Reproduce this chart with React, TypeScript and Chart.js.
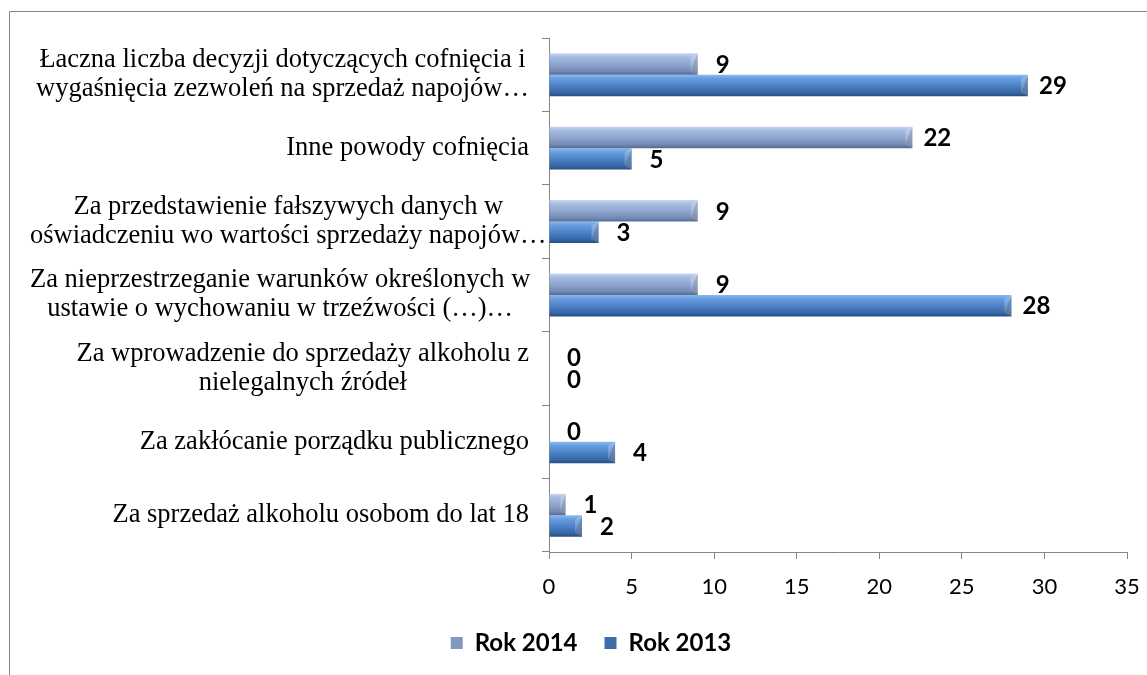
import React, { useEffect, useRef } from "react";
import { Chart, registerables } from "chart.js";

Chart.register(...registerables);

const categories: string[][] = [
  ["Łaczna liczba decyzji dotyczących cofnięcia i", "wygaśnięcia zezwoleń na sprzedaż napojów…"],
  ["Inne powody cofnięcia"],
  ["Za przedstawienie fałszywych danych w", "oświadczeniu wo wartości sprzedaży napojów…"],
  ["Za nieprzestrzeganie warunków określonych w", "ustawie o wychowaniu w trzeźwości (…)…"],
  ["Za wprowadzenie do sprzedaży alkoholu z", "nielegalnych źródeł"],
  ["Za zakłócanie porządku publicznego"],
  ["Za sprzedaż alkoholu osobom do lat 18"],
];
const rok2014: number[] = [9, 22, 9, 9, 0, 0, 1];
const rok2013: number[] = [29, 5, 3, 28, 0, 4, 2];
const seriesNames: string[] = ["Rok 2014", "Rok 2013"];

const W = 1182;
const H = 675;
const AXIS = "#868686";

const GRADS: [number, string][][] = [
  [[0, "#c8d7f1"], [0.18, "#a6bbe0"], [0.55, "#8ca3cd"], [0.85, "#7188b1"], [1, "#56698e"]],
  [[0, "#8cbaf0"], [0.18, "#669de0"], [0.55, "#4a7ec2"], [0.85, "#3666a3"], [1, "#244d7d"]],
];
const LEGEND_COLORS = ["#8398c1", "#3d6dab"];

const frame = {
  id: "frame",
  beforeDraw(chart: any) {
    const ctx = chart.ctx;
    ctx.save();
    ctx.fillStyle = "#ffffff";
    ctx.fillRect(0, 0, chart.width, chart.height);
    ctx.strokeStyle = AXIS;
    ctx.lineWidth = 1;
    ctx.beginPath();
    ctx.moveTo(9.5, chart.height);
    ctx.lineTo(9.5, 11.5);
    ctx.lineTo(chart.width, 11.5);
    ctx.stroke();
    ctx.restore();
  },
};

const barGradient = {
  id: "barGradient",
  beforeDatasetsDraw(chart: any) {
    const ctx = chart.ctx;
    chart.data.datasets.forEach((_ds: any, di: number) => {
      const meta = chart.getDatasetMeta(di);
      meta.data.forEach((el: any) => {
        const h = el.height;
        const top = el.y - h / 2;
        const g = ctx.createLinearGradient(0, top, 0, top + h);
        GRADS[di].forEach(([o, c]) => g.addColorStop(o, c));
        el.options.backgroundColor = g;
      });
    });
  },
  afterDatasetsDraw(chart: any) {
    const ctx = chart.ctx;
    chart.data.datasets.forEach((_ds: any, di: number) => {
      const meta = chart.getDatasetMeta(di);
      meta.data.forEach((el: any) => {
        const w = el.x - el.base;
        if (w < 2) return;
        const h = el.height;
        const top = el.y - h / 2;
        const bot = el.y + h / 2;
        const b = Math.min(7, w / 3);
        ctx.save();
        ctx.fillStyle = di === 0 ? "rgba(60,75,110,0.35)" : "rgba(20,45,90,0.35)";
        ctx.beginPath();
        ctx.moveTo(el.x, top);
        ctx.lineTo(el.x, bot);
        ctx.lineTo(el.x - b, bot - 4);
        ctx.closePath();
        ctx.fill();
        ctx.fillStyle = "rgba(255,255,255,0.22)";
        ctx.beginPath();
        ctx.moveTo(el.x, top);
        ctx.lineTo(el.x - b, top + 4);
        ctx.lineTo(el.x - b, bot - 4);
        ctx.lineTo(el.x, bot);
        ctx.closePath();
        ctx.fill();
        ctx.restore();
      });
    });
  },
};

const dataLabels = {
  id: "dataLabels",
  afterDatasetsDraw(chart: any) {
    const ctx = chart.ctx;
    ctx.save();
    ctx.font = "bold 24px Lato";
    ctx.fillStyle = "#000000";
    ctx.textAlign = "center";
    ctx.textBaseline = "middle";
    chart.data.datasets.forEach((ds: any, di: number) => {
      const meta = chart.getDatasetMeta(di);
      meta.data.forEach((el: any, i: number) => {
        const v = ds.data[i];
        ctx.fillText(String(v), el.x + 25, el.y + 1);
      });
    });
    ctx.restore();
  },
};

const categoryLabels = {
  id: "categoryLabels",
  afterDraw(chart: any) {
    const ctx = chart.ctx;
    const ys = chart.scales.y;
    const right = 529;
    const lh = 29;
    ctx.save();
    ctx.font = '26.5px "Liberation Serif"';
    ctx.fillStyle = "#000000";
    ctx.textAlign = "center";
    ctx.textBaseline = "middle";
    categories.forEach((lines, i) => {
      const yc = ys.getPixelForValue(i);
      const maxW = Math.max(...lines.map((l) => ctx.measureText(l).width));
      let cx = right - maxW / 2;
      if (cx - maxW / 2 < 30) cx = 30 + maxW / 2;
      const y0 = yc - ((lines.length - 1) * lh) / 2;
      lines.forEach((l, k) => ctx.fillText(l, cx, y0 + k * lh));
    });
    ctx.restore();
  },
};

export default function App() {
  const ref = useRef<HTMLCanvasElement | null>(null);
  useEffect(() => {
    if (!ref.current) return;
    const chart = new Chart(ref.current, {
      type: "bar",
      data: {
        labels: categories.map((c) => c.join(" ")),
        datasets: [
          {
            label: seriesNames[0],
            data: rok2014,
            backgroundColor: () => LEGEND_COLORS[0],
            borderWidth: 0,
            categoryPercentage: 0.585,
            barPercentage: 1,
          },
          {
            label: seriesNames[1],
            data: rok2013,
            backgroundColor: () => LEGEND_COLORS[1],
            borderWidth: 0,
            categoryPercentage: 0.585,
            barPercentage: 1,
          },
        ],
      },
      options: {
        indexAxis: "y",
        responsive: false,
        maintainAspectRatio: false,
        devicePixelRatio: 1,
        animation: false,
        layout: { padding: { top: 38, right: 55, bottom: 10, left: 55 } },
        scales: {
          x: {
            min: 0,
            max: 35,
            ticks: {
              stepSize: 5,
              padding: 15,
              color: "#000000",
              font: { family: "Lato", size: 22 },
            },
            grid: { drawOnChartArea: false, drawTicks: true, tickLength: 7, color: AXIS },
            border: { color: AXIS, width: 1 },
            afterFit: (s: any) => {
              s.height = 52;
            },
          },
          y: {
            type: "category",
            offset: true,
            ticks: { display: false },
            grid: { offset: true, drawOnChartArea: false, drawTicks: true, tickLength: 7, color: AXIS },
            border: { color: AXIS, width: 1 },
            afterFit: (s: any) => {
              s.width = 494;
            },
          },
        },
        plugins: {
          legend: {
            position: "bottom",
            labels: {
              boxWidth: 12,
              boxHeight: 12,
              padding: 27,
              color: "#000000",
              font: { family: "Lato", size: 24, weight: "bold" },
            },
          },
          tooltip: { enabled: false },
        },
      },
      plugins: [frame, barGradient, dataLabels, categoryLabels],
    });
    return () => chart.destroy();
  }, []);
  return (
    <div
      style={{
        position: "fixed",
        left: 0,
        top: 0,
        width: 1147,
        height: 675,
        overflow: "hidden",
        background: "#ffffff",
      }}
    >
      <canvas ref={ref} width={W} height={H} style={{ display: "block", width: W, height: H }} />
    </div>
  );
}
